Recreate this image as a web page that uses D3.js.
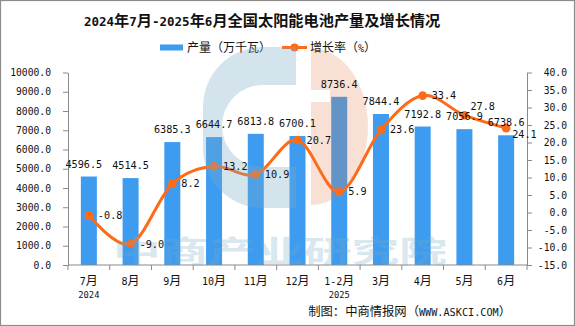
<!DOCTYPE html>
<html><head><meta charset="utf-8">
<script src="https://cdn.jsdelivr.net/npm/d3@7"></script>
<style>body{margin:0;background:#fff}svg{display:block}</style>
</head><body>
<svg id="c" width="575" height="326"></svg>
<script>
const categories = ["7月","8月","9月","10月","11月","12月","1-2月","3月","4月","5月","6月"];
const yearLabels = ["2024","","","","","","2025","","","",""];
const output = [4596.5,4514.5,6385.3,6644.7,6813.8,6700.1,8736.4,7844.4,7192.8,7056.9,6738.6];
const growth = [-0.8,-9.0,8.2,13.2,10.9,20.7,5.9,23.6,33.4,27.8,24.1];
const leftTicks = d3.range(0, 10001, 1000);
const rightTicks = d3.range(-15, 41, 5);
const title = "2024年7月-2025年6月全国太阳能电池产量及增长情况";
const seriesNames = ["产量（万千瓦）","增长率（%）"];
const source = "制图：中商情报网（WWW.ASKCI.COM）";
const watermark = "中商产业研究院";

const MONO = "'DejaVu Sans Mono','Liberation Mono',monospace";
const CJK = "'Noto Sans CJK SC','Noto Sans',sans-serif";
const BLUE = "#3d9cf0", ORANGE = "#ff6a17", AXIS = "#8a8a8a", TXT = "#111";

const svg = d3.select("#c");
svg.append("rect").attr("x",0.5).attr("y",0.5).attr("width",574).attr("height",325)
  .attr("fill","#fff").attr("stroke","#8c8c8c").attr("stroke-width",1.2);

function mixed(sel, str, o) {
  const runs = str.match(/[\x00-\xff]+|[^\x00-\xff]+/g);
  runs.forEach(r => {
    const a = /^[\x00-\xff]/.test(r);
    sel.append("tspan").attr("font-family", a ? (o.af || MONO) : CJK)
      .attr("font-size", a ? o.as : o.cs).text(r);
  });
  return sel;
}

const x = d3.scaleBand().domain(categories).range([68, 527]).padding(0);
const yL = d3.scaleLinear().domain([0, 10000]).range([265, 72.5]);
const yR = d3.scaleLinear().domain([-15, 40]).range([265, 72.5]);
const cx = c => x(c) + x.bandwidth() / 2;
const barW = 16;

// title
mixed(svg.append("text").attr("x", 84).attr("y", 26).attr("font-weight", "bold").attr("fill", TXT),
  title, {as: 12.5, cs: 15.2});

// legend
svg.append("rect").attr("x",160).attr("y",44.5).attr("width",23).attr("height",6).attr("fill",BLUE);
mixed(svg.append("text").attr("x",187).attr("y",51.5).attr("fill",TXT), seriesNames[0], {as:10, cs:12});
svg.append("line").attr("x1",282).attr("x2",307).attr("y1",47.5).attr("y2",47.5)
  .attr("stroke",ORANGE).attr("stroke-width",3);
svg.append("circle").attr("cx",294.5).attr("cy",47.5).attr("r",4).attr("fill",ORANGE);
mixed(svg.append("text").attr("x",310).attr("y",51.5).attr("fill",TXT), seriesNames[1], {as:10, cs:12});

// left axis
const gL = svg.append("g").attr("transform","translate(68,0)")
  .call(d3.axisLeft(yL).tickValues(leftTicks).tickFormat(d => d.toFixed(1)).tickSize(5).tickSizeOuter(0).tickPadding(12));
gL.selectAll("text").attr("font-family",MONO).attr("font-size",9.7).attr("fill",TXT);
gL.selectAll("path,line").attr("stroke",AXIS);

// right axis
const gR = svg.append("g").attr("transform","translate(527,0)")
  .call(d3.axisRight(yR).tickValues(rightTicks).tickFormat(d => d.toFixed(1)).tickSize(5).tickSizeOuter(0));
gR.selectAll("text").attr("font-family",MONO).attr("font-size",9.7).attr("fill",TXT)
  .attr("text-anchor","end").attr("x",40);
gR.selectAll("path,line").attr("stroke",AXIS);

// bars
svg.append("g").selectAll("rect").data(output).join("rect")
  .attr("x",(d,i)=>cx(categories[i]) - barW/2).attr("width",barW)
  .attr("y",d=>yL(d)).attr("height",d=>yL(0)-yL(d)).attr("fill",BLUE);

// x axis
svg.append("line").attr("x1",x.range()[0]).attr("x2",x.range()[1]).attr("y1",265).attr("y2",265).attr("stroke",AXIS);
const bounds = categories.map(c => x(c)).concat([x.range()[1]]);
svg.append("g").selectAll("line").data(bounds).join("line")
  .attr("x1",d=>d).attr("x2",d=>d).attr("y1",265).attr("y2",270).attr("stroke",AXIS);
categories.forEach((c,i) => {
  mixed(svg.append("text").attr("x",cx(c)).attr("y",285).attr("text-anchor","middle").attr("fill",TXT), c, {as:10, cs:12});
  if (yearLabels[i]) svg.append("text").attr("x",cx(c)).attr("y",297.5).attr("text-anchor","middle")
    .attr("font-family",MONO).attr("font-size",8.8).attr("fill",TXT).text(yearLabels[i]);
});

// line
const pts = growth.map((g,i)=>[cx(categories[i]), yR(g)]);
svg.append("path").attr("d", d3.line().curve(d3.curveCardinal.tension(0))(pts))
  .attr("fill","none").attr("stroke",ORANGE).attr("stroke-width",3);
svg.append("g").selectAll("circle").data(pts).join("circle")
  .attr("cx",d=>d[0]).attr("cy",d=>d[1]).attr("r",4.3).attr("fill",ORANGE);

// watermark (overlay)
const wm = svg.append("g");
wm.append("path")
  .attr("d","M296,47 H263 A60,60 0 0 0 203,107 V148 A60,60 0 0 0 263,208 H296 Z M296,85 H263 A41,41 0 0 0 222,126 A41,41 0 0 0 263,167 H296 Z")
  .attr("fill-rule","evenodd").attr("fill","rgb(120,170,200)").attr("fill-opacity",0.32);
const mask = svg.append("defs").append("mask").attr("id","wmOr");
mask.append("rect").attr("x",0).attr("y",0).attr("width",575).attr("height",326).attr("fill","#fff");
mask.append("rect").attr("x",300).attr("y",90).attr("width",30).attr("height",12).attr("fill","#000");
wm.append("path").attr("d","M311,48 A57,78.5 0 0 1 311,205 Z")
  .attr("mask","url(#wmOr)").attr("fill","rgb(230,120,70)").attr("fill-opacity",0.23);
wm.append("text").attr("x",113).attr("y",262).attr("font-family",CJK).attr("font-weight","bold")
  .attr("font-size",30).attr("textLength",334).attr("lengthAdjust","spacingAndGlyphs")
  .attr("fill","rgb(120,170,200)").attr("fill-opacity",0.3).text(watermark);

// bar labels
const barNudge = {0:-5};
svg.append("g").selectAll("text").data(output).join("text")
  .attr("x",(d,i)=>cx(categories[i]) + (barNudge[i]||0)).attr("y",d=>yL(d)-9)
  .attr("text-anchor","middle").attr("font-family",MONO).attr("font-size",10.2).attr("fill",TXT)
  .text(d=>d.toFixed(1));

// growth labels
const lineNudge = {9:[-3,-9], 10:[-3,6]};
svg.append("g").selectAll("text").data(growth).join("text")
  .attr("x",(d,i)=>pts[i][0] + 9 + (lineNudge[i]?lineNudge[i][0]:0))
  .attr("y",(d,i)=>pts[i][1] + 3.5 + (lineNudge[i]?lineNudge[i][1]:0))
  .attr("font-family",MONO).attr("font-size",10.2).attr("fill",TXT)
  .text(d=>d.toFixed(1));

// source
mixed(svg.append("text").attr("x",511).attr("y",316).attr("text-anchor","end").attr("fill",TXT), source, {as:10.2, cs:12.3});
</script>
</body></html>
